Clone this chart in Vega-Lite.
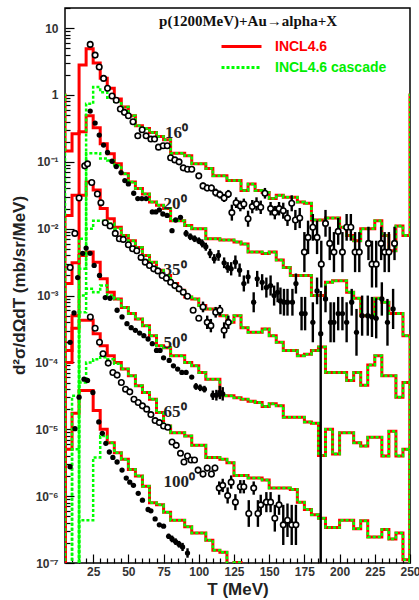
{
"$schema": "https://vega.github.io/schema/vega-lite/v6.json",
"width": 345, "height": 555,
"autosize": {"type": "none"},
"padding": {"left": 65, "top": 8, "right": 9, "bottom": 37},
"background": "white",
"config": {"view": {"stroke": "black", "strokeWidth": 1.5}},
"datasets": {
"hr": [
{"a":16,"T":0,"v":1},{"a":16,"T":5,"v":0.145},{"a":16,"T":10,"v":0.263},{"a":16,"T":15,"v":2.82},{"a":16,"T":20,"v":4.9},{"a":16,"T":25,"v":3.02},{"a":16,"T":30,"v":1.78},{"a":16,"T":35,"v":1.26},{"a":16,"T":40,"v":0.871},{"a":16,"T":45,"v":0.661},{"a":16,"T":50,"v":0.49},{"a":16,"T":55,"v":0.347},{"a":16,"T":60,"v":0.316},{"a":16,"T":65,"v":0.275},{"a":16,"T":70,"v":0.24},{"a":16,"T":75,"v":0.214},{"a":16,"T":80,"v":0.135},{"a":16,"T":85,"v":0.135},{"a":16,"T":90,"v":0.123},{"a":16,"T":95,"v":0.0933},{"a":16,"T":100,"v":0.0933},{"a":16,"T":105,"v":0.0794},{"a":16,"T":110,"v":0.0617},{"a":16,"T":115,"v":0.0617},{"a":16,"T":120,"v":0.0525},{"a":16,"T":125,"v":0.0525},{"a":16,"T":130,"v":0.0372},{"a":16,"T":135,"v":0.0468},{"a":16,"T":140,"v":0.0372},{"a":16,"T":145,"v":0.0347},{"a":16,"T":150,"v":0.0282},{"a":16,"T":155,"v":0.0316},{"a":16,"T":160,"v":0.0295},{"a":16,"T":165,"v":0.0295},{"a":16,"T":170,"v":0.0251},{"a":16,"T":175,"v":0.024},{"a":16,"T":180,"v":0.0135},{"a":16,"T":185,"v":0.0135},{"a":16,"T":190,"v":0.0145},{"a":16,"T":195,"v":0.0145},{"a":16,"T":200,"v":0.0105},{"a":16,"T":205,"v":0.00794},{"a":16,"T":210,"v":0.00661},{"a":16,"T":215,"v":0.01},{"a":16,"T":220,"v":0.01},{"a":16,"T":225,"v":0.0132},{"a":16,"T":230,"v":0.00794},{"a":16,"T":235,"v":0.00468},{"a":16,"T":240,"v":0.011},{"a":16,"T":245,"v":0.00794},{"a":16,"T":250,"v":1},{"a":16,"T":255,"v":1},
{"a":20,"T":0,"v":1e-9},{"a":20,"T":5,"v":0.0158},{"a":20,"T":10,"v":0.0316},{"a":20,"T":15,"v":0.282},{"a":20,"T":20,"v":0.49},{"a":20,"T":25,"v":0.324},{"a":20,"T":30,"v":0.186},{"a":20,"T":35,"v":0.132},{"a":20,"T":40,"v":0.0933},{"a":20,"T":45,"v":0.0661},{"a":20,"T":50,"v":0.0501},{"a":20,"T":55,"v":0.0398},{"a":20,"T":60,"v":0.0331},{"a":20,"T":65,"v":0.0251},{"a":20,"T":70,"v":0.0224},{"a":20,"T":75,"v":0.02},{"a":20,"T":80,"v":0.0132},{"a":20,"T":85,"v":0.0132},{"a":20,"T":90,"v":0.0112},{"a":20,"T":95,"v":0.01},{"a":20,"T":100,"v":0.01},{"a":20,"T":105,"v":0.00708},{"a":20,"T":110,"v":0.00708},{"a":20,"T":115,"v":0.00676},{"a":20,"T":120,"v":0.00676},{"a":20,"T":125,"v":0.00631},{"a":20,"T":130,"v":0.00589},{"a":20,"T":135,"v":0.00447},{"a":20,"T":140,"v":0.00447},{"a":20,"T":145,"v":0.00427},{"a":20,"T":150,"v":0.00447},{"a":20,"T":155,"v":0.00339},{"a":20,"T":160,"v":0.00263},{"a":20,"T":165,"v":0.002},{"a":20,"T":170,"v":0.002},{"a":20,"T":175,"v":0.002},{"a":20,"T":180,"v":0.001},{"a":20,"T":185,"v":0.001},{"a":20,"T":190,"v":0.00158},{"a":20,"T":195,"v":0.00166},{"a":20,"T":200,"v":0.00166},{"a":20,"T":205,"v":0.00112},{"a":20,"T":210,"v":0.000912},{"a":20,"T":215,"v":0.000501},{"a":20,"T":220,"v":0.000501},{"a":20,"T":225,"v":0.000912},{"a":20,"T":230,"v":0.000794},{"a":20,"T":235,"v":0.000537},{"a":20,"T":240,"v":0.000537},{"a":20,"T":245,"v":0.000251},{"a":20,"T":250,"v":1e-9},
{"a":35,"T":0,"v":1e-9},{"a":35,"T":5,"v":0.00151},{"a":35,"T":10,"v":0.00309},{"a":35,"T":15,"v":0.0316},{"a":35,"T":20,"v":0.0501},{"a":35,"T":25,"v":0.038},{"a":35,"T":30,"v":0.02},{"a":35,"T":35,"v":0.0141},{"a":35,"T":40,"v":0.0105},{"a":35,"T":45,"v":0.00794},{"a":35,"T":50,"v":0.00661},{"a":35,"T":55,"v":0.00525},{"a":35,"T":60,"v":0.00398},{"a":35,"T":65,"v":0.00316},{"a":35,"T":70,"v":0.0024},{"a":35,"T":75,"v":0.002},{"a":35,"T":80,"v":0.00151},{"a":35,"T":85,"v":0.0012},{"a":35,"T":90,"v":0.000955},{"a":35,"T":95,"v":0.000891},{"a":35,"T":100,"v":0.000708},{"a":35,"T":105,"v":0.000631},{"a":35,"T":110,"v":0.000631},{"a":35,"T":115,"v":0.000501},{"a":35,"T":120,"v":0.000398},{"a":35,"T":125,"v":0.000501},{"a":35,"T":130,"v":0.000331},{"a":35,"T":135,"v":0.000282},{"a":35,"T":140,"v":0.000282},{"a":35,"T":145,"v":0.000316},{"a":35,"T":150,"v":0.000251},{"a":35,"T":155,"v":0.0002},{"a":35,"T":160,"v":0.000151},{"a":35,"T":165,"v":0.000151},{"a":35,"T":170,"v":0.000126},{"a":35,"T":175,"v":0.000132},{"a":35,"T":180,"v":0.000151},{"a":35,"T":185,"v":0.00017},{"a":35,"T":190,"v":7.08e-5},{"a":35,"T":195,"v":7.08e-5},{"a":35,"T":200,"v":7.08e-5},{"a":35,"T":205,"v":5.37e-5},{"a":35,"T":210,"v":7.08e-5},{"a":35,"T":215,"v":4.57e-5},{"a":35,"T":220,"v":9.12e-5},{"a":35,"T":225,"v":0.000126},{"a":35,"T":230,"v":6.31e-5},{"a":35,"T":235,"v":6.31e-5},{"a":35,"T":240,"v":3.02e-5},{"a":35,"T":245,"v":5.01e-5},{"a":35,"T":250,"v":1e-9},
{"a":50,"T":0,"v":1e-9},{"a":50,"T":5,"v":0.0001},{"a":50,"T":10,"v":0.000501},{"a":50,"T":15,"v":0.00398},{"a":50,"T":20,"v":0.00447},{"a":50,"T":25,"v":0.00316},{"a":50,"T":30,"v":0.00178},{"a":50,"T":35,"v":0.00112},{"a":50,"T":40,"v":0.000891},{"a":50,"T":45,"v":0.000661},{"a":50,"T":50,"v":0.000537},{"a":50,"T":55,"v":0.000447},{"a":50,"T":60,"v":0.000355},{"a":50,"T":65,"v":0.000251},{"a":50,"T":70,"v":0.000178},{"a":50,"T":75,"v":0.000166},{"a":50,"T":80,"v":0.000126},{"a":50,"T":85,"v":0.000126},{"a":50,"T":90,"v":0.0001},{"a":50,"T":95,"v":8.91e-5},{"a":50,"T":100,"v":7.08e-5},{"a":50,"T":105,"v":5.62e-5},{"a":50,"T":110,"v":5.62e-5},{"a":50,"T":115,"v":3.16e-5},{"a":50,"T":120,"v":3.16e-5},{"a":50,"T":125,"v":2.95e-5},{"a":50,"T":130,"v":2.82e-5},{"a":50,"T":135,"v":2.63e-5},{"a":50,"T":140,"v":2.51e-5},{"a":50,"T":145,"v":2.19e-5},{"a":50,"T":150,"v":2.4e-5},{"a":50,"T":155,"v":2.24e-5},{"a":50,"T":160,"v":1.51e-5},{"a":50,"T":165,"v":1.51e-5},{"a":50,"T":170,"v":1.51e-5},{"a":50,"T":175,"v":1.29e-5},{"a":50,"T":180,"v":1.23e-5},{"a":50,"T":185,"v":4.07e-6},{"a":50,"T":190,"v":1e-5},{"a":50,"T":195,"v":4.27e-6},{"a":50,"T":200,"v":8.91e-6},{"a":50,"T":205,"v":8.91e-6},{"a":50,"T":210,"v":6.31e-6},{"a":50,"T":215,"v":5.62e-6},{"a":50,"T":220,"v":7.59e-6},{"a":50,"T":225,"v":7.59e-6},{"a":50,"T":230,"v":3.98e-6},{"a":50,"T":235,"v":9.33e-6},{"a":50,"T":240,"v":3.98e-6},{"a":50,"T":245,"v":5.01e-6},{"a":50,"T":250,"v":1e-9},
{"a":65,"T":0,"v":1e-9},{"a":65,"T":5,"v":0.000151},{"a":65,"T":10,"v":0.000324},{"a":65,"T":15,"v":0.000427},{"a":65,"T":20,"v":0.000427},{"a":65,"T":25,"v":0.000269},{"a":65,"T":30,"v":0.000178},{"a":65,"T":35,"v":0.000126},{"a":65,"T":40,"v":0.0001},{"a":65,"T":45,"v":7.94e-5},{"a":65,"T":50,"v":6.31e-5},{"a":65,"T":55,"v":4.47e-5},{"a":65,"T":60,"v":3.55e-5},{"a":65,"T":65,"v":2.82e-5},{"a":65,"T":70,"v":1.78e-5},{"a":65,"T":75,"v":1.12e-5},{"a":65,"T":80,"v":8.91e-6},{"a":65,"T":85,"v":8.91e-6},{"a":65,"T":90,"v":7.94e-6},{"a":65,"T":95,"v":5.75e-6},{"a":65,"T":100,"v":5.75e-6},{"a":65,"T":105,"v":3.8e-6},{"a":65,"T":110,"v":3.8e-6},{"a":65,"T":115,"v":3.55e-6},{"a":65,"T":120,"v":3.16e-6},{"a":65,"T":125,"v":2.04e-6},{"a":65,"T":130,"v":2.04e-6},{"a":65,"T":135,"v":1.86e-6},{"a":65,"T":140,"v":1.86e-6},{"a":65,"T":145,"v":1.74e-6},{"a":65,"T":150,"v":1.32e-6},{"a":65,"T":155,"v":1.32e-6},{"a":65,"T":160,"v":1.32e-6},{"a":65,"T":165,"v":1.26e-6},{"a":65,"T":170,"v":8.13e-7},{"a":65,"T":175,"v":6.31e-7},{"a":65,"T":180,"v":5.25e-7},{"a":65,"T":185,"v":4.68e-7},{"a":65,"T":190,"v":3.39e-7},{"a":65,"T":195,"v":3.39e-7},{"a":65,"T":200,"v":4.37e-7},{"a":65,"T":205,"v":4.37e-7},{"a":65,"T":210,"v":3.24e-7},{"a":65,"T":215,"v":4.27e-7},{"a":65,"T":220,"v":2.45e-7},{"a":65,"T":225,"v":2.45e-7},{"a":65,"T":230,"v":3.16e-7},{"a":65,"T":235,"v":2.29e-7},{"a":65,"T":240,"v":2.82e-7},{"a":65,"T":245,"v":1.12e-7},{"a":65,"T":250,"v":1e-9},
{"a":100,"T":0,"v":1e-9},{"a":100,"T":5,"v":5.01e-6},{"a":100,"T":10,"v":1.74e-5},{"a":100,"T":15,"v":3.8e-5},{"a":100,"T":20,"v":3.8e-5},{"a":100,"T":25,"v":1.91e-5},{"a":100,"T":30,"v":1e-5},{"a":100,"T":35,"v":6.31e-6},{"a":100,"T":40,"v":4.47e-6},{"a":100,"T":45,"v":3.55e-6},{"a":100,"T":50,"v":2.51e-6},{"a":100,"T":55,"v":2e-6},{"a":100,"T":60,"v":1.41e-6},{"a":100,"T":65,"v":7.94e-7},{"a":100,"T":70,"v":7.41e-7},{"a":100,"T":75,"v":5.75e-7},{"a":100,"T":80,"v":4.37e-7},{"a":100,"T":85,"v":4.37e-7},{"a":100,"T":90,"v":3.47e-7},{"a":100,"T":95,"v":2.82e-7},{"a":100,"T":100,"v":2.82e-7},{"a":100,"T":105,"v":2.19e-7},{"a":100,"T":110,"v":1.55e-7},{"a":100,"T":115,"v":1.45e-7},{"a":100,"T":120,"v":6.31e-8},{"a":100,"T":125,"v":1.02e-7},{"a":100,"T":130,"v":1e-9}
],
"hg": [
{"a":16,"T":0,"v":1},{"a":16,"T":5,"v":1e-9},{"a":16,"T":10,"v":1e-9},{"a":16,"T":15,"v":0.00251},{"a":16,"T":20,"v":0.741},{"a":16,"T":25,"v":1.32},{"a":16,"T":30,"v":1.1},{"a":16,"T":35,"v":0.912},{"a":16,"T":40,"v":0.794},{"a":16,"T":45,"v":0.661},{"a":16,"T":50,"v":0.49},{"a":16,"T":55,"v":0.347},{"a":16,"T":60,"v":0.316},{"a":16,"T":65,"v":0.275},{"a":16,"T":70,"v":0.24},{"a":16,"T":75,"v":0.214},{"a":16,"T":80,"v":0.135},{"a":16,"T":85,"v":0.135},{"a":16,"T":90,"v":0.123},{"a":16,"T":95,"v":0.0933},{"a":16,"T":100,"v":0.0933},{"a":16,"T":105,"v":0.0794},{"a":16,"T":110,"v":0.0617},{"a":16,"T":115,"v":0.0617},{"a":16,"T":120,"v":0.0525},{"a":16,"T":125,"v":0.0525},{"a":16,"T":130,"v":0.0372},{"a":16,"T":135,"v":0.0468},{"a":16,"T":140,"v":0.0372},{"a":16,"T":145,"v":0.0347},{"a":16,"T":150,"v":0.0282},{"a":16,"T":155,"v":0.0316},{"a":16,"T":160,"v":0.0295},{"a":16,"T":165,"v":0.0295},{"a":16,"T":170,"v":0.0251},{"a":16,"T":175,"v":0.024},{"a":16,"T":180,"v":0.0135},{"a":16,"T":185,"v":0.0135},{"a":16,"T":190,"v":0.0145},{"a":16,"T":195,"v":0.0145},{"a":16,"T":200,"v":0.0105},{"a":16,"T":205,"v":0.00794},{"a":16,"T":210,"v":0.00661},{"a":16,"T":215,"v":0.01},{"a":16,"T":220,"v":0.01},{"a":16,"T":225,"v":0.0132},{"a":16,"T":230,"v":0.00794},{"a":16,"T":235,"v":0.00468},{"a":16,"T":240,"v":0.011},{"a":16,"T":245,"v":0.00794},{"a":16,"T":250,"v":1},{"a":16,"T":255,"v":1},
{"a":20,"T":0,"v":1e-9},{"a":20,"T":5,"v":1e-9},{"a":20,"T":10,"v":1e-9},{"a":20,"T":15,"v":0.001},{"a":20,"T":20,"v":0.135},{"a":20,"T":25,"v":0.135},{"a":20,"T":30,"v":0.112},{"a":20,"T":35,"v":0.105},{"a":20,"T":40,"v":0.0891},{"a":20,"T":45,"v":0.0661},{"a":20,"T":50,"v":0.0501},{"a":20,"T":55,"v":0.0398},{"a":20,"T":60,"v":0.0331},{"a":20,"T":65,"v":0.0251},{"a":20,"T":70,"v":0.0224},{"a":20,"T":75,"v":0.02},{"a":20,"T":80,"v":0.0132},{"a":20,"T":85,"v":0.0132},{"a":20,"T":90,"v":0.0112},{"a":20,"T":95,"v":0.01},{"a":20,"T":100,"v":0.01},{"a":20,"T":105,"v":0.00708},{"a":20,"T":110,"v":0.00708},{"a":20,"T":115,"v":0.00676},{"a":20,"T":120,"v":0.00676},{"a":20,"T":125,"v":0.00631},{"a":20,"T":130,"v":0.00589},{"a":20,"T":135,"v":0.00447},{"a":20,"T":140,"v":0.00447},{"a":20,"T":145,"v":0.00427},{"a":20,"T":150,"v":0.00447},{"a":20,"T":155,"v":0.00339},{"a":20,"T":160,"v":0.00263},{"a":20,"T":165,"v":0.002},{"a":20,"T":170,"v":0.002},{"a":20,"T":175,"v":0.002},{"a":20,"T":180,"v":0.001},{"a":20,"T":185,"v":0.001},{"a":20,"T":190,"v":0.00158},{"a":20,"T":195,"v":0.00166},{"a":20,"T":200,"v":0.00166},{"a":20,"T":205,"v":0.00112},{"a":20,"T":210,"v":0.000912},{"a":20,"T":215,"v":0.000501},{"a":20,"T":220,"v":0.000501},{"a":20,"T":225,"v":0.000912},{"a":20,"T":230,"v":0.000794},{"a":20,"T":235,"v":0.000537},{"a":20,"T":240,"v":0.000537},{"a":20,"T":245,"v":0.000251},{"a":20,"T":250,"v":1e-9},
{"a":35,"T":0,"v":1e-9},{"a":35,"T":5,"v":1e-9},{"a":35,"T":10,"v":1e-9},{"a":35,"T":15,"v":0.00708},{"a":35,"T":20,"v":0.01},{"a":35,"T":25,"v":0.0132},{"a":35,"T":30,"v":0.0132},{"a":35,"T":35,"v":0.012},{"a":35,"T":40,"v":0.01},{"a":35,"T":45,"v":0.00794},{"a":35,"T":50,"v":0.00661},{"a":35,"T":55,"v":0.00525},{"a":35,"T":60,"v":0.00398},{"a":35,"T":65,"v":0.00316},{"a":35,"T":70,"v":0.0024},{"a":35,"T":75,"v":0.002},{"a":35,"T":80,"v":0.00151},{"a":35,"T":85,"v":0.0012},{"a":35,"T":90,"v":0.000955},{"a":35,"T":95,"v":0.000891},{"a":35,"T":100,"v":0.000708},{"a":35,"T":105,"v":0.000631},{"a":35,"T":110,"v":0.000631},{"a":35,"T":115,"v":0.000501},{"a":35,"T":120,"v":0.000398},{"a":35,"T":125,"v":0.000501},{"a":35,"T":130,"v":0.000331},{"a":35,"T":135,"v":0.000282},{"a":35,"T":140,"v":0.000282},{"a":35,"T":145,"v":0.000316},{"a":35,"T":150,"v":0.000251},{"a":35,"T":155,"v":0.0002},{"a":35,"T":160,"v":0.000151},{"a":35,"T":165,"v":0.000151},{"a":35,"T":170,"v":0.000126},{"a":35,"T":175,"v":0.000132},{"a":35,"T":180,"v":0.000151},{"a":35,"T":185,"v":0.00017},{"a":35,"T":190,"v":7.08e-5},{"a":35,"T":195,"v":7.08e-5},{"a":35,"T":200,"v":7.08e-5},{"a":35,"T":205,"v":5.37e-5},{"a":35,"T":210,"v":7.08e-5},{"a":35,"T":215,"v":4.57e-5},{"a":35,"T":220,"v":9.12e-5},{"a":35,"T":225,"v":0.000126},{"a":35,"T":230,"v":6.31e-5},{"a":35,"T":235,"v":6.31e-5},{"a":35,"T":240,"v":3.02e-5},{"a":35,"T":245,"v":5.01e-5},{"a":35,"T":250,"v":1e-9},
{"a":50,"T":0,"v":1e-9},{"a":50,"T":5,"v":1e-9},{"a":50,"T":10,"v":3.16e-5},{"a":50,"T":15,"v":0.000562},{"a":50,"T":20,"v":0.00126},{"a":50,"T":25,"v":0.00112},{"a":50,"T":30,"v":0.00141},{"a":50,"T":35,"v":0.001},{"a":50,"T":40,"v":0.000891},{"a":50,"T":45,"v":0.000661},{"a":50,"T":50,"v":0.000537},{"a":50,"T":55,"v":0.000447},{"a":50,"T":60,"v":0.000355},{"a":50,"T":65,"v":0.000251},{"a":50,"T":70,"v":0.000178},{"a":50,"T":75,"v":0.000166},{"a":50,"T":80,"v":0.000126},{"a":50,"T":85,"v":0.000126},{"a":50,"T":90,"v":0.0001},{"a":50,"T":95,"v":8.91e-5},{"a":50,"T":100,"v":7.08e-5},{"a":50,"T":105,"v":5.62e-5},{"a":50,"T":110,"v":5.62e-5},{"a":50,"T":115,"v":3.16e-5},{"a":50,"T":120,"v":3.16e-5},{"a":50,"T":125,"v":2.95e-5},{"a":50,"T":130,"v":2.82e-5},{"a":50,"T":135,"v":2.63e-5},{"a":50,"T":140,"v":2.51e-5},{"a":50,"T":145,"v":2.19e-5},{"a":50,"T":150,"v":2.4e-5},{"a":50,"T":155,"v":2.24e-5},{"a":50,"T":160,"v":1.51e-5},{"a":50,"T":165,"v":1.51e-5},{"a":50,"T":170,"v":1.51e-5},{"a":50,"T":175,"v":1.29e-5},{"a":50,"T":180,"v":1.23e-5},{"a":50,"T":185,"v":4.07e-6},{"a":50,"T":190,"v":1e-5},{"a":50,"T":195,"v":4.27e-6},{"a":50,"T":200,"v":8.91e-6},{"a":50,"T":205,"v":8.91e-6},{"a":50,"T":210,"v":6.31e-6},{"a":50,"T":215,"v":5.62e-6},{"a":50,"T":220,"v":7.59e-6},{"a":50,"T":225,"v":7.59e-6},{"a":50,"T":230,"v":3.98e-6},{"a":50,"T":235,"v":9.33e-6},{"a":50,"T":240,"v":3.98e-6},{"a":50,"T":245,"v":5.01e-6},{"a":50,"T":250,"v":1e-9},
{"a":65,"T":0,"v":1e-9},{"a":65,"T":5,"v":1e-9},{"a":65,"T":10,"v":5.01e-6},{"a":65,"T":15,"v":5.01e-5},{"a":65,"T":20,"v":0.0001},{"a":65,"T":25,"v":0.000112},{"a":65,"T":30,"v":0.00012},{"a":65,"T":35,"v":0.000112},{"a":65,"T":40,"v":9.55e-5},{"a":65,"T":45,"v":7.94e-5},{"a":65,"T":50,"v":6.31e-5},{"a":65,"T":55,"v":4.47e-5},{"a":65,"T":60,"v":3.55e-5},{"a":65,"T":65,"v":2.82e-5},{"a":65,"T":70,"v":1.78e-5},{"a":65,"T":75,"v":1.12e-5},{"a":65,"T":80,"v":8.91e-6},{"a":65,"T":85,"v":8.91e-6},{"a":65,"T":90,"v":7.94e-6},{"a":65,"T":95,"v":5.75e-6},{"a":65,"T":100,"v":5.75e-6},{"a":65,"T":105,"v":3.8e-6},{"a":65,"T":110,"v":3.8e-6},{"a":65,"T":115,"v":3.55e-6},{"a":65,"T":120,"v":3.16e-6},{"a":65,"T":125,"v":2.04e-6},{"a":65,"T":130,"v":2.04e-6},{"a":65,"T":135,"v":1.86e-6},{"a":65,"T":140,"v":1.86e-6},{"a":65,"T":145,"v":1.74e-6},{"a":65,"T":150,"v":1.32e-6},{"a":65,"T":155,"v":1.32e-6},{"a":65,"T":160,"v":1.32e-6},{"a":65,"T":165,"v":1.26e-6},{"a":65,"T":170,"v":8.13e-7},{"a":65,"T":175,"v":6.31e-7},{"a":65,"T":180,"v":5.25e-7},{"a":65,"T":185,"v":4.68e-7},{"a":65,"T":190,"v":3.39e-7},{"a":65,"T":195,"v":3.39e-7},{"a":65,"T":200,"v":4.37e-7},{"a":65,"T":205,"v":4.37e-7},{"a":65,"T":210,"v":3.24e-7},{"a":65,"T":215,"v":4.27e-7},{"a":65,"T":220,"v":2.45e-7},{"a":65,"T":225,"v":2.45e-7},{"a":65,"T":230,"v":3.16e-7},{"a":65,"T":235,"v":2.29e-7},{"a":65,"T":240,"v":2.82e-7},{"a":65,"T":245,"v":1.12e-7},{"a":65,"T":250,"v":1e-9},
{"a":100,"T":0,"v":1e-9},{"a":100,"T":5,"v":1e-9},{"a":100,"T":10,"v":1e-9},{"a":100,"T":15,"v":4.37e-7},{"a":100,"T":20,"v":4.37e-7},{"a":100,"T":25,"v":3.8e-6},{"a":100,"T":30,"v":7.94e-6},{"a":100,"T":35,"v":6.31e-6},{"a":100,"T":40,"v":4.47e-6},{"a":100,"T":45,"v":3.55e-6},{"a":100,"T":50,"v":2.51e-6},{"a":100,"T":55,"v":2e-6},{"a":100,"T":60,"v":1.41e-6},{"a":100,"T":65,"v":7.94e-7},{"a":100,"T":70,"v":7.41e-7},{"a":100,"T":75,"v":5.75e-7},{"a":100,"T":80,"v":4.37e-7},{"a":100,"T":85,"v":4.37e-7},{"a":100,"T":90,"v":3.47e-7},{"a":100,"T":95,"v":2.82e-7},{"a":100,"T":100,"v":2.82e-7},{"a":100,"T":105,"v":2.19e-7},{"a":100,"T":110,"v":1.55e-7},{"a":100,"T":115,"v":1.45e-7},{"a":100,"T":120,"v":6.31e-8},{"a":100,"T":125,"v":1.02e-7},{"a":100,"T":130,"v":1e-9}
],
"p": [
{"a":16,"s":"o","T":22.9,"v":5.71},{"a":16,"s":"o","T":26.4,"v":3.95},{"a":16,"s":"o","T":29.3,"v":2.62},{"a":16,"s":"o","T":32.4,"v":1.77},{"a":16,"s":"o","T":35.2,"v":1.26},{"a":16,"s":"o","T":38.4,"v":0.966},{"a":16,"s":"o","T":41.4,"v":0.834},{"a":16,"s":"o","T":44.3,"v":0.617},{"a":16,"s":"o","T":47.2,"v":0.55},{"a":16,"s":"o","T":50,"v":0.49},{"a":16,"s":"o","T":53.3,"v":0.398},{"a":16,"s":"o","T":56.7,"v":0.245},{"a":16,"s":"o","T":59.8,"v":0.302},{"a":16,"s":"o","T":62.6,"v":0.245},{"a":16,"s":"o","T":66,"v":0.219},{"a":16,"s":"o","T":68.6,"v":0.219},{"a":16,"s":"o","T":71.4,"v":0.166},{"a":16,"s":"o","T":74.7,"v":0.174},{"a":16,"s":"o","T":77.6,"v":0.174},{"a":16,"s":"o","T":80,"v":0.115},{"a":16,"s":"o","T":83,"v":0.107},{"a":16,"s":"o","T":86,"v":0.1},{"a":16,"s":"o","T":89,"v":0.0813},{"a":16,"s":"o","T":92,"v":0.0776},{"a":16,"s":"o","T":95,"v":0.0776},{"a":16,"s":"o","T":100,"v":0.0617},
{"a":16,"s":"o","T":103,"v":0.0437,"lo":0.0389,"hi":0.049},{"a":16,"s":"o","T":106,"v":0.0407,"lo":0.0363,"hi":0.0457},{"a":16,"s":"o","T":109,"v":0.0407,"lo":0.0363,"hi":0.0457},{"a":16,"s":"o","T":112,"v":0.0347,"lo":0.0302,"hi":0.0398},{"a":16,"s":"o","T":115,"v":0.0324,"lo":0.0282,"hi":0.0372},{"a":16,"s":"o","T":118,"v":0.0288,"lo":0.0251,"hi":0.0331},{"a":16,"s":"o","T":121,"v":0.0331,"lo":0.0288,"hi":0.038},{"a":16,"s":"o","T":123.5,"v":0.0174,"lo":0.0132,"hi":0.0229},{"a":16,"s":"o","T":126.5,"v":0.0245,"lo":0.0204,"hi":0.0295},{"a":16,"s":"o","T":129.5,"v":0.0219,"lo":0.0182,"hi":0.0263},{"a":16,"s":"o","T":132,"v":0.0234,"lo":0.0195,"hi":0.0282},{"a":16,"s":"o","T":135,"v":0.0141,"lo":0.0107,"hi":0.0186},{"a":16,"s":"o","T":138,"v":0.0214,"lo":0.017,"hi":0.0269},{"a":16,"s":"o","T":141,"v":0.0234,"lo":0.0186,"hi":0.0295},{"a":16,"s":"o","T":144,"v":0.0209,"lo":0.0166,"hi":0.0263},{"a":16,"s":"o","T":147,"v":0.0339,"lo":0.0282,"hi":0.0407},{"a":16,"s":"o","T":151,"v":0.02,"lo":0.0158,"hi":0.0251},{"a":16,"s":"o","T":154,"v":0.0174,"lo":0.0138,"hi":0.0219},{"a":16,"s":"o","T":157,"v":0.02,"lo":0.0158,"hi":0.0251},{"a":16,"s":"o","T":160,"v":0.0186,"lo":0.0141,"hi":0.0245},{"a":16,"s":"o","T":163,"v":0.0145,"lo":0.011,"hi":0.0191},{"a":16,"s":"o","T":166,"v":0.024,"lo":0.0182,"hi":0.0316},{"a":16,"s":"o","T":168.6,"v":0.0135,"lo":0.00955,"hi":0.0191},{"a":16,"s":"o","T":171.7,"v":0.0145,"lo":0.0102,"hi":0.0204},{"a":16,"s":"o","T":175,"v":0.00447,"lo":0.00224,"hi":0.00891},{"a":16,"s":"o","T":177.6,"v":0.00741,"lo":0.00417,"hi":0.0132},{"a":16,"s":"o","T":181,"v":0.0105,"lo":0.00661,"hi":0.0166},{"a":16,"s":"o","T":184,"v":0.00741,"lo":0.00417,"hi":0.0132},{"a":16,"s":"o","T":187,"v":0.00295,"lo":0.00132,"hi":0.00661},{"a":16,"s":"o","T":190,"v":0.012,"lo":0.00759,"hi":0.0191},{"a":16,"s":"o","T":193,"v":0.00603,"lo":0.00339,"hi":0.0107},{"a":16,"s":"o","T":196,"v":0.00447,"lo":0.00224,"hi":0.00891},{"a":16,"s":"o","T":199,"v":0.00912,"lo":0.00575,"hi":0.0145},{"a":16,"s":"o","T":202,"v":0.00447,"lo":0.00224,"hi":0.00891},{"a":16,"s":"o","T":205,"v":0.0105,"lo":0.00661,"hi":0.0166},{"a":16,"s":"o","T":208,"v":0.0105,"lo":0.00661,"hi":0.0166},{"a":16,"s":"o","T":211,"v":0.00447,"lo":0.00224,"hi":0.00891},{"a":16,"s":"o","T":214,"v":0.00447,"lo":0.00224,"hi":0.00891},{"a":16,"s":"o","T":220.5,"v":0.00603,"lo":0.00339,"hi":0.0107},{"a":16,"s":"o","T":223,"v":0.00295,"lo":0.00132,"hi":0.00661},{"a":16,"s":"o","T":226,"v":0.00295,"lo":0.00132,"hi":0.00661},{"a":16,"s":"o","T":229.5,"v":0.00603,"lo":0.00339,"hi":0.0107},{"a":16,"s":"o","T":232,"v":0.00447,"lo":0.00224,"hi":0.00891},{"a":16,"s":"o","T":235,"v":0.00447,"lo":0.00224,"hi":0.00891},{"a":16,"s":"o","T":239,"v":0.00603,"lo":0.00339,"hi":0.0107},
{"a":20,"s":"f","T":22.9,"v":0.575},{"a":20,"s":"f","T":26.4,"v":0.38},{"a":20,"s":"f","T":29.3,"v":0.251},{"a":20,"s":"f","T":32.4,"v":0.178},{"a":20,"s":"f","T":35.2,"v":0.138},{"a":20,"s":"f","T":38.4,"v":0.102},{"a":20,"s":"f","T":41.4,"v":0.0851},{"a":20,"s":"f","T":44.8,"v":0.0692},{"a":20,"s":"f","T":47.5,"v":0.0525},{"a":20,"s":"f","T":50,"v":0.0468},{"a":20,"s":"f","T":53.8,"v":0.0339},{"a":20,"s":"f","T":56.7,"v":0.0282},{"a":20,"s":"f","T":59.6,"v":0.0282},{"a":20,"s":"f","T":62.6,"v":0.0282},{"a":20,"s":"f","T":67,"v":0.0178},{"a":20,"s":"f","T":69.5,"v":0.0178},{"a":20,"s":"f","T":72,"v":0.0191},{"a":20,"s":"f","T":74.5,"v":0.0166},{"a":20,"s":"f","T":77.5,"v":0.0158},{"a":20,"s":"f","T":81,"v":0.00933},{"a":20,"s":"f","T":83.6,"v":0.0135},{"a":20,"s":"f","T":87,"v":0.0148},
{"a":20,"s":"f","T":91,"v":0.00851,"lo":0.00759,"hi":0.00955},{"a":20,"s":"f","T":94,"v":0.00759,"lo":0.00676,"hi":0.00851},{"a":20,"s":"f","T":97,"v":0.00708,"lo":0.00631,"hi":0.00794},{"a":20,"s":"f","T":100,"v":0.00661,"lo":0.00589,"hi":0.00741},{"a":20,"s":"f","T":102.5,"v":0.00603,"lo":0.00525,"hi":0.00692},{"a":20,"s":"f","T":105,"v":0.00537,"lo":0.00468,"hi":0.00617},{"a":20,"s":"f","T":108,"v":0.00427,"lo":0.00363,"hi":0.00501},{"a":20,"s":"f","T":111,"v":0.00355,"lo":0.00302,"hi":0.00417},{"a":20,"s":"f","T":114,"v":0.00398,"lo":0.00331,"hi":0.00479},{"a":20,"s":"f","T":118,"v":0.00309,"lo":0.00257,"hi":0.00372},{"a":20,"s":"f","T":120.5,"v":0.00263,"lo":0.00219,"hi":0.00316},{"a":20,"s":"f","T":123,"v":0.00251,"lo":0.002,"hi":0.00316},{"a":20,"s":"f","T":126,"v":0.00316,"lo":0.00251,"hi":0.00398},{"a":20,"s":"f","T":129,"v":0.0024,"lo":0.00191,"hi":0.00302},{"a":20,"s":"f","T":132,"v":0.00151,"lo":0.00115,"hi":0.002},{"a":20,"s":"f","T":135,"v":0.00191,"lo":0.00151,"hi":0.0024},{"a":20,"s":"f","T":139,"v":0.000794,"lo":0.000562,"hi":0.00112},{"a":20,"s":"f","T":141.5,"v":0.00178,"lo":0.00135,"hi":0.00234},{"a":20,"s":"f","T":145,"v":0.00158,"lo":0.0012,"hi":0.00209},{"a":20,"s":"f","T":148,"v":0.00132,"lo":0.000933,"hi":0.00186},{"a":20,"s":"f","T":151,"v":0.00141,"lo":0.001,"hi":0.002},{"a":20,"s":"f","T":153.5,"v":0.001,"lo":0.000708,"hi":0.00141},{"a":20,"s":"f","T":156,"v":0.00112,"lo":0.000794,"hi":0.00158},{"a":20,"s":"f","T":158,"v":0.000832,"lo":0.000525,"hi":0.00132},{"a":20,"s":"f","T":160.5,"v":0.000794,"lo":0.000501,"hi":0.00126},{"a":20,"s":"f","T":163,"v":0.000794,"lo":0.000501,"hi":0.00126},{"a":20,"s":"f","T":166.5,"v":0.000794,"lo":0.000501,"hi":0.00126},{"a":20,"s":"f","T":169,"v":0.00151,"lo":0.00107,"hi":0.00214},{"a":20,"s":"f","T":173,"v":0.000537,"lo":0.000302,"hi":0.000955},{"a":20,"s":"f","T":175.5,"v":0.000537,"lo":0.000302,"hi":0.000955},{"a":20,"s":"f","T":181,"v":0.000398,"lo":0.0002,"hi":0.000794},{"a":20,"s":"f","T":184,"v":0.00117,"lo":0.000741,"hi":0.00186},{"a":20,"s":"f","T":186.6,"v":0.000269,"lo":1e-9,"hi":0.00117},{"a":20,"s":"f","T":190,"v":0.000891,"lo":0.000562,"hi":0.00141},{"a":20,"s":"f","T":193.6,"v":0.000398,"lo":0.0002,"hi":0.000794},{"a":20,"s":"f","T":196,"v":0.000398,"lo":0.0002,"hi":0.000794},{"a":20,"s":"f","T":199,"v":0.000537,"lo":0.000302,"hi":0.000955},{"a":20,"s":"f","T":202,"v":0.000537,"lo":0.000302,"hi":0.000955},{"a":20,"s":"f","T":205,"v":0.000398,"lo":0.0002,"hi":0.000794},{"a":20,"s":"f","T":208.6,"v":0.000794,"lo":0.000501,"hi":0.00126},{"a":20,"s":"f","T":212,"v":0.000282,"lo":0.000126,"hi":0.000631},{"a":20,"s":"f","T":216,"v":0.000501,"lo":0.000251,"hi":0.001},{"a":20,"s":"f","T":220,"v":0.000501,"lo":0.000251,"hi":0.001},{"a":20,"s":"f","T":223,"v":0.000479,"lo":0.00024,"hi":0.000955},{"a":20,"s":"f","T":226,"v":0.000457,"lo":0.000229,"hi":0.000912},{"a":20,"s":"f","T":230,"v":0.000891,"lo":0.000501,"hi":0.00158},{"a":20,"s":"f","T":234,"v":0.000398,"lo":0.000178,"hi":0.000891},{"a":20,"s":"f","T":238,"v":0.000631,"lo":0.000316,"hi":0.00126},
{"a":35,"s":"o","T":8.6,"v":0.00263},{"a":35,"s":"o","T":12,"v":0.00851},{"a":35,"s":"o","T":15,"v":0.0288},{"a":35,"s":"o","T":19,"v":0.0871},{"a":35,"s":"o","T":21,"v":0.0933},{"a":35,"s":"o","T":24,"v":0.049},{"a":35,"s":"o","T":28,"v":0.0331},{"a":35,"s":"o","T":30.5,"v":0.0245},{"a":35,"s":"o","T":33.6,"v":0.0123},{"a":35,"s":"o","T":37,"v":0.011},{"a":35,"s":"o","T":40.7,"v":0.00851},{"a":35,"s":"o","T":43.6,"v":0.00708},{"a":35,"s":"o","T":46.4,"v":0.00692},{"a":35,"s":"o","T":50,"v":0.00575},{"a":35,"s":"o","T":53,"v":0.00501},{"a":35,"s":"o","T":56,"v":0.00468},{"a":35,"s":"o","T":59,"v":0.00372},{"a":35,"s":"o","T":62,"v":0.00316},{"a":35,"s":"o","T":65,"v":0.00282},{"a":35,"s":"o","T":68,"v":0.00251},{"a":35,"s":"o","T":71,"v":0.00234},{"a":35,"s":"o","T":74,"v":0.002},{"a":35,"s":"o","T":77,"v":0.00182},{"a":35,"s":"o","T":80,"v":0.00158},{"a":35,"s":"o","T":83,"v":0.00141},{"a":35,"s":"o","T":86,"v":0.00126},{"a":35,"s":"o","T":89,"v":0.00112},{"a":35,"s":"o","T":92,"v":0.000977},{"a":35,"s":"o","T":96,"v":0.000603},{"a":35,"s":"o","T":100,"v":0.000457},
{"a":35,"s":"o","T":103,"v":0.000676,"lo":0.000562,"hi":0.000813},{"a":35,"s":"o","T":106,"v":0.000398,"lo":0.000316,"hi":0.000501},{"a":35,"s":"o","T":108.6,"v":0.000355,"lo":0.000282,"hi":0.000447},{"a":35,"s":"o","T":112,"v":0.000562,"lo":0.000468,"hi":0.000676},{"a":35,"s":"o","T":115,"v":0.000603,"lo":0.000501,"hi":0.000724},{"a":35,"s":"o","T":118,"v":0.000302,"lo":0.000229,"hi":0.000398},{"a":35,"s":"o","T":121,"v":0.000398,"lo":0.000316,"hi":0.000501},
{"a":50,"s":"f","T":8.6,"v":0.0002},{"a":50,"s":"f","T":11.4,"v":0.00055},{"a":50,"s":"f","T":14,"v":0.00186},{"a":50,"s":"f","T":17.6,"v":0.00427},{"a":50,"s":"f","T":20,"v":0.00513},{"a":50,"s":"f","T":22.8,"v":0.00427},{"a":50,"s":"f","T":25.7,"v":0.00282},{"a":50,"s":"f","T":29.5,"v":0.002},{"a":50,"s":"f","T":33.6,"v":0.000933},{"a":50,"s":"f","T":37,"v":0.000912},{"a":50,"s":"f","T":42,"v":0.000603},{"a":50,"s":"f","T":45.5,"v":0.000479},{"a":50,"s":"f","T":49,"v":0.00038},{"a":50,"s":"f","T":52,"v":0.000331},{"a":50,"s":"f","T":55,"v":0.000302},{"a":50,"s":"f","T":58,"v":0.000275},{"a":50,"s":"f","T":61,"v":0.000251},{"a":50,"s":"f","T":64,"v":0.000224},{"a":50,"s":"f","T":67,"v":0.000191},{"a":50,"s":"f","T":70,"v":0.000151},{"a":50,"s":"f","T":72.5,"v":0.000151},{"a":50,"s":"f","T":75,"v":0.000117},{"a":50,"s":"f","T":79,"v":0.000107},{"a":50,"s":"f","T":82,"v":8.91e-5},{"a":50,"s":"f","T":85,"v":7.94e-5},{"a":50,"s":"f","T":88,"v":7.08e-5},{"a":50,"s":"f","T":91,"v":7.08e-5},{"a":50,"s":"f","T":95,"v":6.03e-5},
{"a":50,"s":"f","T":98,"v":4.37e-5,"lo":3.89e-5,"hi":4.9e-5},{"a":50,"s":"f","T":101,"v":4.17e-5,"lo":3.72e-5,"hi":4.68e-5},{"a":50,"s":"f","T":104,"v":3.98e-5,"lo":3.55e-5,"hi":4.47e-5},{"a":50,"s":"f","T":110,"v":3.24e-5,"lo":2.75e-5,"hi":3.8e-5},{"a":50,"s":"f","T":112.5,"v":3.24e-5,"lo":2.69e-5,"hi":3.89e-5},{"a":50,"s":"f","T":115,"v":3.55e-5,"lo":2.82e-5,"hi":4.47e-5},{"a":50,"s":"f","T":117,"v":3.39e-5,"lo":2.69e-5,"hi":4.27e-5},
{"a":65,"s":"o","T":23,"v":0.000479},{"a":65,"s":"o","T":26.4,"v":0.000324},{"a":65,"s":"o","T":29.5,"v":0.0002},{"a":65,"s":"o","T":32,"v":0.000135},{"a":65,"s":"o","T":35.7,"v":9.77e-5},{"a":65,"s":"o","T":39,"v":7.08e-5},{"a":65,"s":"o","T":42,"v":6.46e-5},{"a":65,"s":"o","T":45,"v":5.01e-5},{"a":65,"s":"o","T":48,"v":3.98e-5},{"a":65,"s":"o","T":51,"v":3.63e-5},{"a":65,"s":"o","T":54,"v":2.82e-5},{"a":65,"s":"o","T":57,"v":2.51e-5},{"a":65,"s":"o","T":60,"v":2.24e-5},{"a":65,"s":"o","T":63,"v":2e-5},{"a":65,"s":"o","T":66,"v":1.66e-5},{"a":65,"s":"o","T":69,"v":1.35e-5},{"a":65,"s":"o","T":72,"v":1.26e-5},{"a":65,"s":"o","T":75,"v":1.12e-5},{"a":65,"s":"o","T":78,"v":1.07e-5},{"a":65,"s":"o","T":81,"v":6.46e-6},{"a":65,"s":"o","T":84,"v":5.75e-6},{"a":65,"s":"o","T":87,"v":4.37e-6},{"a":65,"s":"o","T":89.5,"v":3.24e-6},{"a":65,"s":"o","T":92,"v":3.98e-6},{"a":65,"s":"o","T":94.5,"v":3.47e-6},{"a":65,"s":"o","T":97,"v":3.47e-6},
{"a":65,"s":"o","T":99.5,"v":2.45e-6,"lo":2.19e-6,"hi":2.75e-6},{"a":65,"s":"o","T":103,"v":2.14e-6,"lo":1.91e-6,"hi":2.4e-6},{"a":65,"s":"o","T":106,"v":2.63e-6,"lo":2.34e-6,"hi":2.95e-6},{"a":65,"s":"o","T":109,"v":2.14e-6,"lo":1.91e-6,"hi":2.4e-6},{"a":65,"s":"o","T":111.5,"v":2.63e-6,"lo":2.34e-6,"hi":2.95e-6},{"a":65,"s":"o","T":114.5,"v":1.32e-6,"lo":1.05e-6,"hi":1.66e-6},{"a":65,"s":"o","T":117,"v":1.45e-6,"lo":1.15e-6,"hi":1.82e-6},{"a":65,"s":"o","T":120.5,"v":1.02e-6,"lo":7.76e-7,"hi":1.35e-6},{"a":65,"s":"o","T":123,"v":1.62e-6,"lo":1.29e-6,"hi":2.04e-6},{"a":65,"s":"o","T":126,"v":8.13e-7,"lo":6.17e-7,"hi":1.07e-6},{"a":65,"s":"o","T":129.5,"v":1.38e-6,"lo":1.1e-6,"hi":1.74e-6},{"a":65,"s":"o","T":132,"v":1.38e-6,"lo":1.1e-6,"hi":1.74e-6},{"a":65,"s":"o","T":135.5,"v":5.5e-7,"lo":3.47e-7,"hi":8.71e-7},{"a":65,"s":"o","T":139,"v":1.32e-6,"lo":1.05e-6,"hi":1.66e-6},{"a":65,"s":"o","T":142,"v":5.5e-7,"lo":3.47e-7,"hi":8.71e-7},{"a":65,"s":"o","T":144,"v":7.41e-7,"lo":5.25e-7,"hi":1.05e-6},{"a":65,"s":"o","T":148,"v":8.13e-7,"lo":5.75e-7,"hi":1.15e-6},{"a":65,"s":"o","T":151,"v":8.13e-7,"lo":5.75e-7,"hi":1.15e-6},{"a":65,"s":"o","T":154,"v":4.68e-7,"lo":2.95e-7,"hi":7.41e-7},{"a":65,"s":"o","T":157,"v":7.41e-7,"lo":5.25e-7,"hi":1.05e-6},{"a":65,"s":"o","T":160,"v":3.72e-7,"lo":1.86e-7,"hi":7.41e-7},{"a":65,"s":"o","T":163,"v":4.37e-7,"lo":2.45e-7,"hi":7.76e-7},{"a":65,"s":"o","T":166,"v":3.72e-7,"lo":1.86e-7,"hi":7.41e-7},{"a":65,"s":"o","T":169,"v":3.72e-7,"lo":1.86e-7,"hi":7.41e-7},
{"a":100,"s":"f","T":8.6,"v":2.75e-6},{"a":100,"s":"f","T":12.1,"v":1.02e-5},{"a":100,"s":"f","T":15,"v":3.02e-5},{"a":100,"s":"f","T":18.5,"v":5.62e-5},{"a":100,"s":"f","T":21,"v":5.37e-5},{"a":100,"s":"f","T":24.8,"v":3.55e-5},{"a":100,"s":"f","T":29,"v":1.29e-5},{"a":100,"s":"f","T":31.5,"v":8.71e-6},{"a":100,"s":"f","T":34,"v":6.17e-6},{"a":100,"s":"f","T":36.5,"v":4.57e-6},{"a":100,"s":"f","T":39,"v":3.8e-6},{"a":100,"s":"f","T":42,"v":3.24e-6},{"a":100,"s":"f","T":45.5,"v":2.45e-6},{"a":100,"s":"f","T":48.5,"v":1.86e-6},{"a":100,"s":"f","T":51,"v":1.62e-6},{"a":100,"s":"f","T":53.6,"v":1.45e-6},{"a":100,"s":"f","T":57,"v":1.1e-6},{"a":100,"s":"f","T":60,"v":8.71e-7},{"a":100,"s":"f","T":64,"v":6.31e-7},{"a":100,"s":"f","T":66,"v":6.03e-7},{"a":100,"s":"f","T":69,"v":4.57e-7},{"a":100,"s":"f","T":72,"v":3.72e-7},{"a":100,"s":"f","T":75,"v":3.55e-7},
{"a":100,"s":"f","T":78.6,"v":2.51e-7,"lo":2.29e-7,"hi":2.75e-7},{"a":100,"s":"f","T":81,"v":2.29e-7,"lo":2.04e-7,"hi":2.57e-7},{"a":100,"s":"f","T":83.5,"v":2.09e-7,"lo":1.86e-7,"hi":2.34e-7},{"a":100,"s":"f","T":86,"v":1.91e-7,"lo":1.7e-7,"hi":2.14e-7},{"a":100,"s":"f","T":88.5,"v":1.74e-7,"lo":1.51e-7,"hi":2e-7},{"a":100,"s":"f","T":92,"v":1.41e-7,"lo":1.2e-7,"hi":1.66e-7}
],
"lab": [
{"t":"16⁰","T":76,"v":0.228},{"t":"20⁰","T":75,"v":0.02},{"t":"35⁰","T":75,"v":0.002},{"t":"50⁰","T":75,"v":0.000166},{"t":"65⁰","T":75,"v":1.51e-5},{"t":"100⁰","T":75,"v":1.35e-6}
],
"ttl": [{"t":"p(1200MeV)+Au→alpha+X","T":135,"v":10.7}]
},
"encoding": {
"x": {"field": "T", "type": "quantitative", "scale": {"domain": [5, 250], "nice": false, "zero": false},
 "axis": {"values": [10,15,20,25,30,35,40,45,50,55,60,65,70,75,80,85,90,95,100,105,110,115,120,125,130,135,140,145,150,155,160,165,170,175,180,185,190,195,200,205,210,215,220,225,230,235,240,245,250],
  "labelExpr": "datum.value % 25 === 0 ? datum.label : ''", "labelOverlap": false, "labelFlush": false, "labelBound": false,
  "tickSize": {"condition": {"test": "datum.value % 25 === 0", "value": -9}, "value": -5},
  "tickColor": "black", "tickWidth": 1.2, "domain": false, "grid": false,
  "labelFont": "Liberation Sans", "labelFontWeight": "bold", "labelFontSize": 12, "labelColor": "#333", "labelPadding": 12,
  "title": "T (MeV)", "titleFont": "Liberation Sans", "titleFontSize": 17, "titleFontWeight": "bold", "titleColor": "#222", "titlePadding": 0}},
"y": {"field": "v", "type": "quantitative", "scale": {"type": "log", "domain": [1e-7, 20], "nice": false},
 "axis": {"values": [1e-7,2e-7,3e-7,4e-7,5e-7,6e-7,7e-7,8e-7,9e-7,1e-6,2e-6,3e-6,4e-6,5e-6,6e-6,7e-6,8e-6,9e-6,1e-5,2e-5,3e-5,4e-5,5e-5,6e-5,7e-5,8e-5,9e-5,1e-4,2e-4,3e-4,4e-4,5e-4,6e-4,7e-4,8e-4,9e-4,0.001,0.002,0.003,0.004,0.005,0.006,0.007,0.008,0.009,0.01,0.02,0.03,0.04,0.05,0.06,0.07,0.08,0.09,0.1,0.2,0.3,0.4,0.5,0.6,0.7,0.8,0.9,1,2,3,4,5,6,7,8,9,10,20],
  "labelExpr": "abs(log(datum.value)/LN10 - round(log(datum.value)/LN10)) < 0.001 ? ['10⁻⁷','10⁻⁶','10⁻⁵','10⁻⁴','10⁻³','10⁻²','10⁻¹','1','10'][round(log(datum.value)/LN10)+7] : ''",
  "labelOverlap": false, "labelFlush": false, "labelBound": false,
  "tickSize": {"condition": {"test": "abs(log(datum.value)/LN10 - round(log(datum.value)/LN10)) < 0.001", "value": -9}, "value": -5},
  "tickColor": "black", "tickWidth": 1.2, "domain": false, "grid": false,
  "labelFont": "Liberation Sans", "labelFontWeight": "bold", "labelFontSize": 12, "labelColor": "#333", "labelPadding": 16,
  "title": "d²σ/dΩdT (mb/sr/MeV)", "titleFont": "Liberation Sans", "titleFontSize": 17, "titleFontWeight": "bold", "titleColor": "#222", "titleX": -46, "titleY": 277, "titleAlign": "center", "titleBaseline": "middle", "titleAngle": 270}}
},
"layer": [
{"data": {"name": "hr"}, "mark": {"type": "line", "interpolate": "step-after", "strokeWidth": 3, "clip": true},
 "encoding": {"detail": {"field": "a"},
  "color": {"datum": "INCL4.6", "type": "nominal", "scale": {"domain": ["INCL4.6", "INCL4.6 cascade"], "range": ["#ff0000", "#00ff00"]},
   "legend": {"orient": "none", "legendX": 165, "legendY": 27, "title": null, "symbolType": "M-2,0H2", "symbolSize": 400, "symbolStrokeWidth": 3, "labelOffset": 22, "labelFont": "Liberation Sans", "labelFontSize": 14, "labelFontWeight": "bold", "labelColor": {"expr": "datum.label === 'INCL4.6' ? '#ff0000' : '#00ee00'"}, "rowPadding": 2}},
  "strokeDash": {"datum": "INCL4.6", "type": "nominal", "scale": {"domain": ["INCL4.6", "INCL4.6 cascade"], "range": [[1, 0], [3, 2]]},
   "legend": {"orient": "none", "legendX": 165, "legendY": 27, "title": null, "symbolType": "M-2,0H2", "symbolSize": 400, "symbolStrokeWidth": 3, "labelOffset": 22, "labelFont": "Liberation Sans", "labelFontSize": 14, "labelFontWeight": "bold", "labelColor": {"expr": "datum.label === 'INCL4.6' ? '#ff0000' : '#00ee00'"}, "rowPadding": 2}}}},
{"data": {"name": "hg"}, "mark": {"type": "line", "interpolate": "step-after", "strokeWidth": 2.5, "clip": true},
 "encoding": {"detail": {"field": "a"},
  "color": {"datum": "INCL4.6 cascade", "type": "nominal"},
  "strokeDash": {"datum": "INCL4.6 cascade", "type": "nominal"}}},
{"data": {"name": "p"}, "transform": [{"filter": "isValid(datum.lo)"}], "mark": {"type": "rule", "color": "black", "strokeWidth": 2.4, "clip": true},
 "encoding": {"y": {"field": "lo", "type": "quantitative", "scale": {"type": "log", "domain": [1e-7, 20], "nice": false},
  "axis": {"values": [1e-7,2e-7,3e-7,4e-7,5e-7,6e-7,7e-7,8e-7,9e-7,1e-6,2e-6,3e-6,4e-6,5e-6,6e-6,7e-6,8e-6,9e-6,1e-5,2e-5,3e-5,4e-5,5e-5,6e-5,7e-5,8e-5,9e-5,1e-4,2e-4,3e-4,4e-4,5e-4,6e-4,7e-4,8e-4,9e-4,0.001,0.002,0.003,0.004,0.005,0.006,0.007,0.008,0.009,0.01,0.02,0.03,0.04,0.05,0.06,0.07,0.08,0.09,0.1,0.2,0.3,0.4,0.5,0.6,0.7,0.8,0.9,1,2,3,4,5,6,7,8,9,10,20],
  "labelExpr": "abs(log(datum.value)/LN10 - round(log(datum.value)/LN10)) < 0.001 ? ['10⁻⁷','10⁻⁶','10⁻⁵','10⁻⁴','10⁻³','10⁻²','10⁻¹','1','10'][round(log(datum.value)/LN10)+7] : ''",
  "labelOverlap": false, "labelFlush": false, "labelBound": false,
  "tickSize": {"condition": {"test": "abs(log(datum.value)/LN10 - round(log(datum.value)/LN10)) < 0.001", "value": -9}, "value": -5},
  "tickColor": "black", "tickWidth": 1.2, "domain": false, "grid": false,
  "labelFont": "Liberation Sans", "labelFontWeight": "bold", "labelFontSize": 12, "labelColor": "#333", "labelPadding": 16,
  "title": "d²σ/dΩdT (mb/sr/MeV)", "titleFont": "Liberation Sans", "titleFontSize": 17, "titleFontWeight": "bold", "titleColor": "#222", "titleX": -46, "titleY": 277, "titleAlign": "center", "titleBaseline": "middle", "titleAngle": 270}},
  "y2": {"field": "hi"}}},
{"data": {"name": "p"}, "transform": [{"filter": "datum.s === 'o'"}], "mark": {"type": "point", "shape": "circle", "filled": false, "fill": "white", "stroke": "black", "strokeWidth": 1.6, "size": 30, "opacity": 1, "clip": true}},
{"data": {"name": "p"}, "transform": [{"filter": "datum.s === 'f'"}], "mark": {"type": "point", "shape": "circle", "filled": true, "color": "black", "size": 28, "opacity": 1, "clip": true}},
{"data": {"name": "lab"}, "mark": {"type": "text", "align": "left", "baseline": "alphabetic", "font": "Liberation Serif", "fontSize": 17, "fontWeight": "bold", "color": "#222"}, "encoding": {"text": {"field": "t"}}},
{"data": {"name": "ttl"}, "mark": {"type": "text", "align": "center", "baseline": "alphabetic", "font": "Liberation Serif", "fontSize": 15, "fontWeight": "bold", "color": "#111"}, "encoding": {"text": {"field": "t"}}}
]
}
